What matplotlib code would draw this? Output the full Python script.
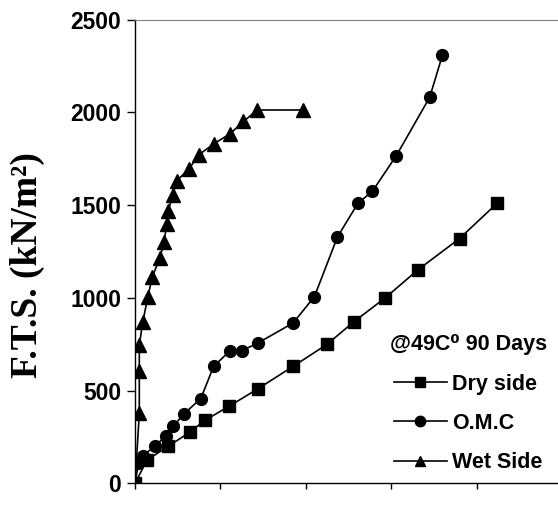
import matplotlib
matplotlib.use('Agg')
import matplotlib.pyplot as plt

# dry side
dry_x = [0, 0.14, 0.39, 0.64, 0.82, 1.10, 1.44, 1.85, 2.25, 2.56, 2.93, 3.31, 3.80, 4.24]
dry_y = [0, 125, 200, 275, 340, 415, 510, 630, 750, 870, 1000, 1150, 1320, 1510]

# O.M.C
omc_x = [0, 0.04, 0.09, 0.23, 0.36, 0.45, 0.57, 0.77, 0.92, 1.11, 1.25, 1.44,
         1.85, 2.10, 2.37, 2.61, 2.78, 3.06, 3.45, 3.60]
omc_y = [0, 108, 147, 200, 255, 308, 373, 457, 630, 714, 714, 757,
         864, 1006, 1328, 1510, 1575, 1767, 2081, 2309]

# wet side
wet_x = [0, 0.05, 0.05, 0.05, 0.09, 0.15, 0.20, 0.29, 0.34, 0.37, 0.39, 0.44,
         0.49, 0.63, 0.75, 0.92, 1.11, 1.27, 1.43, 1.97]
wet_y = [0, 377, 604, 744, 870, 1004, 1112, 1213, 1300, 1396, 1471, 1552,
         1632, 1695, 1772, 1830, 1884, 1951, 2013, 2013]

y_ticks = [0, 500, 1000, 1500, 2000, 2500]

fig = plt.figure(figsize=(5.58, 5.05), dpi=100)
ax = fig.add_axes([0.242, 0.043, 0.758, 0.918])

ax.plot(dry_x, dry_y, color='black', lw=1.2, marker='s', ms=8, label='Dry side')
ax.plot(omc_x, omc_y, color='black', lw=1.2, marker='o', ms=8.5, label='O.M.C')
ax.plot(wet_x, wet_y, color='black', lw=1.2, marker='^', ms=9.5, label='Wet Side')

ax.set_xlim(0, 4.953)
ax.set_ylim(0, 2500)
ax.set_xticks([0, 1, 2, 3, 4])
ax.set_xticklabels([])
ax.set_yticks(y_ticks)
ax.set_yticklabels([str(v) for v in y_ticks], fontsize=16.5, fontweight='bold',
                   family='Liberation Sans')
ax.tick_params(axis='y', direction='out', length=6, width=1, pad=4)
ax.tick_params(axis='x', direction='out', length=4, width=1)

ax.spines['right'].set_visible(False)
ax.spines['top'].set_color('#808080')
ax.spines['left'].set_linewidth(1)
ax.spines['bottom'].set_linewidth(1)

ax.set_ylabel('F.T.S. (kN/m²)', fontsize=27, fontweight='bold',
              family='Liberation Serif')
ax.yaxis.set_label_coords(-0.212, 0.47)

leg_font = {'family': ['Liberation Sans', 'DejaVu Sans'], 'weight': 'bold', 'size': 15.5}
leg = ax.legend(loc='upper left', bbox_to_anchor=(0.582, 0.34), frameon=False,
                title='@49C⁰ 90 Days', handlelength=2.45, labelspacing=0.85,
                handletextpad=0.25, borderaxespad=0,
                prop=leg_font, title_fontproperties=leg_font)
for h in leg.legend_handles:
    h.set_markersize(7.5)

fig.savefig('out.png', dpi=100)
